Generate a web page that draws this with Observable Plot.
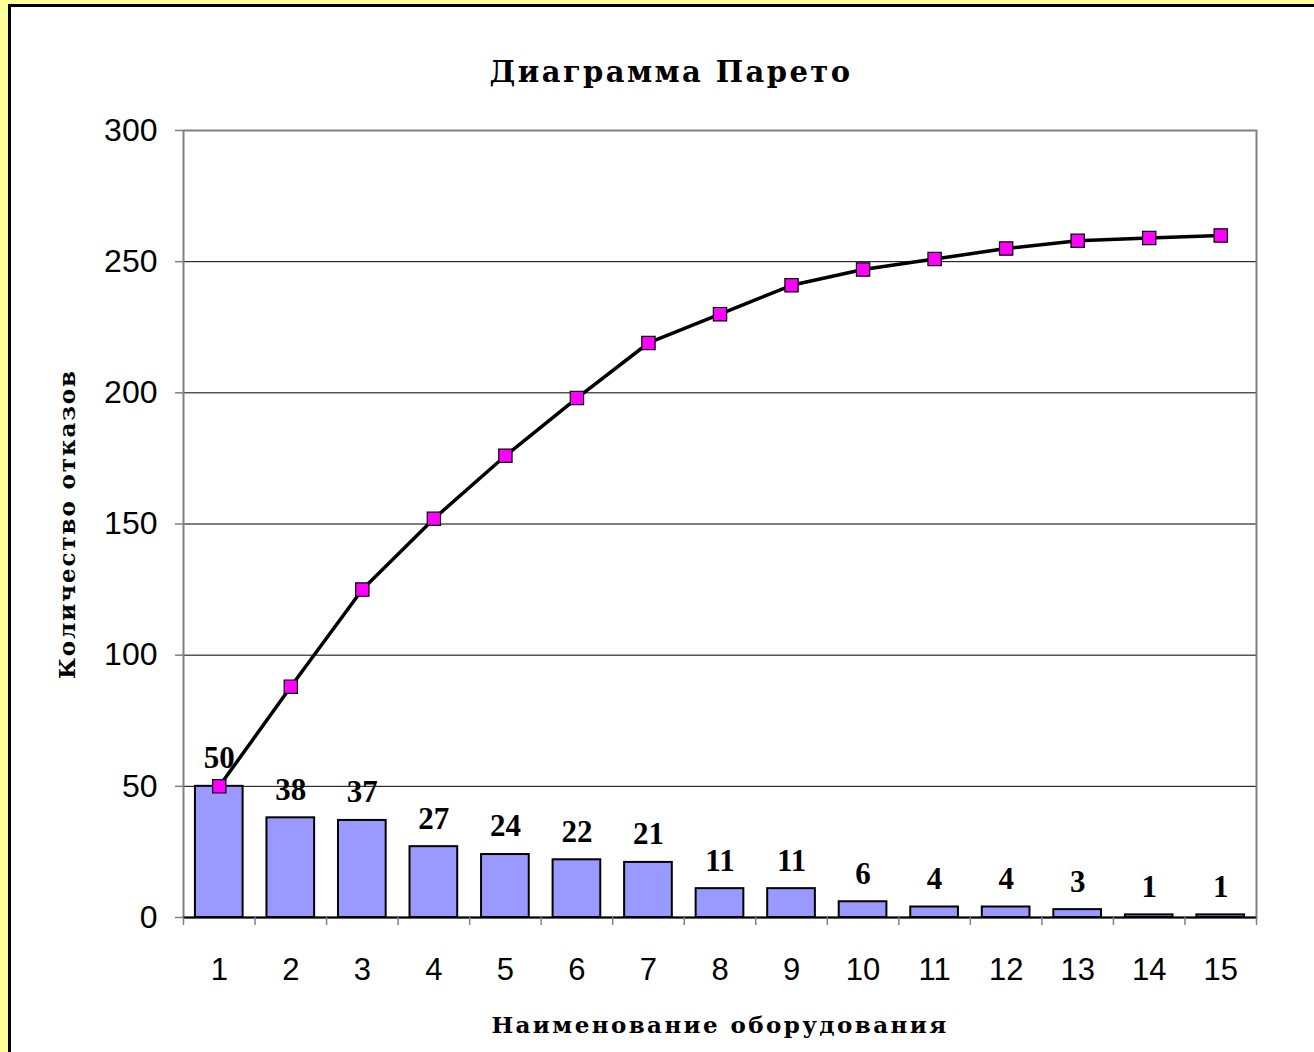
<!DOCTYPE html>
<html>
<head>
<meta charset="utf-8">
<script src="https://cdn.jsdelivr.net/npm/d3@7"></script>
<script src="https://cdn.jsdelivr.net/npm/@observablehq/plot@0.6"></script>
<style>
  html, body { margin: 0; padding: 0; width: 1314px; height: 1052px; overflow: hidden; background: #FFFF99; }
  #frame { position: absolute; left: 8px; top: 4px; width: 1400px; height: 1200px; background: #fff;
           border-left: 3px solid #000; border-top: 3px solid #000; }
  #title { position: absolute; left: 671px; top: 72px; transform: translate(-50%, -50%);
           font-family: "DejaVu Serif", serif; font-weight: bold; font-size: 29px; letter-spacing: 2.4px;
           white-space: nowrap; color: #000; }
  #chart { position: absolute; left: 0; top: 100px; }
</style>
</head>
<body>
<div id="frame"></div>
<div id="title">Диаграмма Парето</div>
<div id="chart"></div>
<script>
const categories = [1, 2, 3, 4, 5, 6, 7, 8, 9, 10, 11, 12, 13, 14, 15];
const failures = [50, 38, 37, 27, 24, 22, 21, 11, 11, 6, 4, 4, 3, 1, 1];
const cumulative = [50, 88, 125, 152, 176, 198, 219, 230, 241, 247, 251, 255, 258, 259, 260];
const yTicks = [0, 50, 100, 150, 200, 250, 300];
const gridValues = [50, 100, 150, 200, 250];
const xBoundaries = [0.5, 1.5, 2.5, 3.5, 4.5, 5.5, 6.5, 7.5, 8.5, 9.5, 10.5, 11.5, 12.5, 13.5, 14.5, 15.5];
const yLabel = "Количество отказов";
const xLabel = "Наименование оборудования";

const data = categories.map((c, i) => ({c, v: failures[i], cum: cumulative[i]}));
const half = 1 / 3;

const chart = Plot.plot({
  width: 1314,
  height: 952,
  marginTop: 30,
  marginBottom: 135,
  marginLeft: 183,
  marginRight: 58,
  x: {type: "linear", domain: [0.5, 15.5]},
  y: {domain: [0, 300]},
  style: {background: "transparent", color: "#000"},
  marks: [
    Plot.ruleY(gridValues, {stroke: "#000", strokeWidth: 1}),
    Plot.frame({stroke: "#808080", strokeWidth: 2}),
    Plot.rectY(data, {x1: d => d.c - half, x2: d => d.c + half, y: "v", fill: "#9999FF", stroke: "#000", strokeWidth: 2}),
    Plot.ruleY([0], {stroke: "#000", strokeWidth: 2}),
    Plot.axisY({ticks: yTicks, tickSize: 8, tickPadding: 18, stroke: "#808080", strokeWidth: 1.5,
      fontSize: 32, fontFamily: "Liberation Sans, Arial, sans-serif", fill: "#000", label: null}),
    Plot.axisX({ticks: xBoundaries, tickSize: 8, tickFormat: () => "", stroke: "#808080", strokeWidth: 1.5, label: null}),
    Plot.axisX({ticks: categories, tickSize: 0, tickPadding: 40, tickFormat: d => String(d),
      fontSize: 31, fontFamily: "Liberation Sans, Arial, sans-serif", fill: "#000", label: null}),
    Plot.line(data, {x: "c", y: "cum", stroke: "#000", strokeWidth: 3.5}),
    Plot.dot(data, {x: "c", y: "cum", symbol: "square", r: 7.5, fill: "#FF00FF", stroke: "#000", strokeWidth: 1.2}),
    Plot.text(data, {x: "c", y: "v", text: d => String(d.v), dy: -28, fontSize: 31, fontWeight: "bold",
      fontFamily: "Liberation Serif, serif", fill: "#000"}),
    Plot.text([yLabel], {frameAnchor: "left", textAnchor: "middle", rotate: -90, dx: -116,
      fontSize: 23, fontWeight: "bold", fontFamily: "DejaVu Serif, serif", fill: "#000"}),
    Plot.text([xLabel], {frameAnchor: "bottom", dy: 115, fontSize: 23, fontWeight: "bold",
      fontFamily: "DejaVu Serif, serif", fill: "#000"})
  ]
});
d3.select(chart).selectAll("text").each(function() {
  const t = this.textContent;
  if (t === yLabel) this.setAttribute("letter-spacing", "1.9");
  if (t === xLabel) this.setAttribute("letter-spacing", "2.4");
});
document.getElementById("chart").appendChild(chart);
</script>
</body>
</html>
